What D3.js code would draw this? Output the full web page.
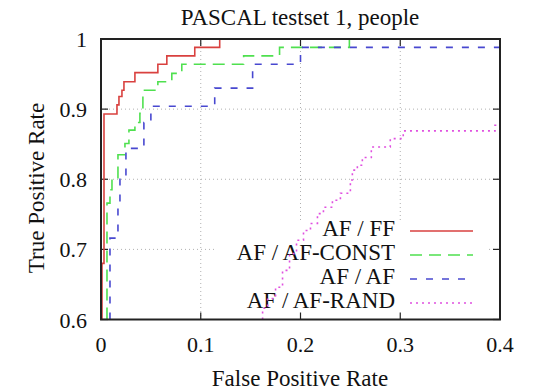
<!DOCTYPE html>
<html><head><meta charset="utf-8">
<script src="https://cdn.jsdelivr.net/npm/d3@7"></script>
<style>body{margin:0;background:#fff}svg text{font-family:"Liberation Serif","Times New Roman",serif;fill:#111}</style>
</head><body><svg id="c" width="533" height="391"></svg>
<script>
const title = "PASCAL testset 1, people";
const xLabel = "False Positive Rate";
const yLabel = "True Positive Rate";
const xTicks = [0, 0.1, 0.2, 0.3, 0.4];
const yTicks = [0.6, 0.7, 0.8, 0.9, 1];
const xTickLabels = ["0", "0.1", "0.2", "0.3", "0.4"];
const yTickLabels = ["0.6", "0.7", "0.8", "0.9", "1"];
const seriesNames = ["AF / FF", "AF / AF-CONST", "AF / AF", "AF / AF-RAND"];

// ROC staircase corners (step-before: rise at previous x, then run to this x)
const ffFpr = [0.001, 0.003, 0.016, 0.018, 0.021, 0.023, 0.034, 0.057, 0.066, 0.094, 0.119, 0.4];
const ffTpr = [0.6, 0.68, 0.893, 0.906, 0.918, 0.927, 0.939, 0.952, 0.964, 0.976, 0.988, 1.0];
const constFpr = [0.006, 0.009, 0.011, 0.017, 0.024, 0.028, 0.034, 0.039, 0.042, 0.057, 0.071, 0.081, 0.143, 0.179, 0.249, 0.4];
const constTpr = [0.6, 0.766, 0.785, 0.80, 0.835, 0.851, 0.870, 0.881, 0.894, 0.927, 0.939, 0.951, 0.964, 0.976, 0.988, 1.0];
const afFpr = [0.009, 0.017, 0.019, 0.025, 0.043, 0.050, 0.114, 0.152, 0.2, 0.4];
const afTpr = [0.6, 0.716, 0.76, 0.80, 0.844, 0.881, 0.904, 0.93, 0.964, 0.988];
const randFpr = [0.162, 0.167, 0.175, 0.182, 0.189, 0.196, 0.203, 0.210, 0.217, 0.223, 0.232, 0.240, 0.250, 0.252, 0.257, 0.262, 0.271, 0.290, 0.303, 0.395, 0.4];
const randTpr = [0.6, 0.616, 0.630, 0.646, 0.670, 0.694, 0.713, 0.727, 0.737, 0.751, 0.760, 0.770, 0.780, 0.799, 0.813, 0.820, 0.831, 0.846, 0.858, 0.869, 0.877];

const colors = ["#d9413f", "#4fe04f", "#4848d0", "#e050e0"];
const dashes = [null, "12,7", "7,9", "2,4"];

const svg = d3.select("#c");
const L = 101, R = 500, T = 39, B = 319.5;
const x = d3.scaleLinear().domain([0, 0.4]).range([L, R]);
const y = d3.scaleLinear().domain([0.6, 1]).range([B, T]);

// grid
const g = svg.append("g");
g.selectAll(".gx").data(xTicks.slice(1, -1)).enter().append("line")
  .attr("x1", d => x(d)).attr("x2", d => x(d)).attr("y1", T).attr("y2", B)
  .attr("stroke", "#b0b0b0").attr("stroke-width", 1).attr("stroke-dasharray", "1,3");
g.selectAll(".gy").data(yTicks.slice(1, -1)).enter().append("line")
  .attr("x1", L).attr("x2", R).attr("y1", d => y(d)).attr("y2", d => y(d))
  .attr("stroke", "#b0b0b0").attr("stroke-width", 1).attr("stroke-dasharray", "1,3");
// key area clears grid
svg.append("rect").attr("x", 217).attr("y", 220).attr("width", 270).attr("height", B - 221).attr("fill", "#fff");

// ticks (mirrored, inward)
const tk = svg.append("g").attr("stroke", "#222").attr("stroke-width", 1.2);
xTicks.forEach(d => {
  tk.append("line").attr("x1", x(d)).attr("x2", x(d)).attr("y1", B).attr("y2", B - 7);
  tk.append("line").attr("x1", x(d)).attr("x2", x(d)).attr("y1", T).attr("y2", T + 7);
});
yTicks.forEach(d => {
  tk.append("line").attr("x1", L).attr("x2", L + 7).attr("y1", y(d)).attr("y2", y(d));
  tk.append("line").attr("x1", R).attr("x2", R - 7).attr("y1", y(d)).attr("y2", y(d));
});

// tick labels
svg.selectAll(".xt").data(xTicks).enter().append("text")
  .attr("x", d => x(d)).attr("y", 352).attr("text-anchor", "middle")
  .attr("font-size", 22).text((d, i) => xTickLabels[i]);
svg.selectAll(".yt").data(yTicks).enter().append("text")
  .attr("x", 87).attr("y", d => y(d) + 8).attr("text-anchor", "end")
  .attr("font-size", 22).text((d, i) => yTickLabels[i]);

// labels
svg.append("text").attr("x", 300).attr("y", 25).attr("text-anchor", "middle").attr("font-size", 23).text(title);
svg.append("text").attr("x", 300).attr("y", 386).attr("text-anchor", "middle").attr("font-size", 23).text(xLabel);
svg.append("text").attr("transform", "translate(44,188) rotate(-90)").attr("text-anchor", "middle").attr("font-size", 23).text(yLabel);

// legend
const legY = [236, 260, 284, 308];
seriesNames.forEach((n, i) => {
  svg.append("text").attr("x", 395).attr("y", legY[i]).attr("text-anchor", "end").attr("font-size", 23).text(n);
  svg.append("line").attr("x1", 410).attr("x2", 473).attr("y1", legY[i] - 5).attr("y2", legY[i] - 5)
    .attr("stroke", colors[i]).attr("stroke-width", 1.6).attr("stroke-dasharray", dashes[i]);
});

// curves
svg.append("clipPath").attr("id", "clip").append("rect").attr("x", L).attr("y", T).attr("width", R - L).attr("height", B - T);
const series = [[ffFpr, ffTpr], [constFpr, constTpr], [afFpr, afTpr], [randFpr, randTpr]];
const line = d3.line().x(d => x(d[0])).y(d => y(d[1])).curve(d3.curveStepBefore);
const cg = svg.append("g").attr("clip-path", "url(#clip)");
series.forEach((s, i) => {
  const pts = s[0].map((v, j) => [v, s[1][j]]);
  cg.append("path").attr("d", line(pts)).attr("fill", "none")
    .attr("stroke", colors[i]).attr("stroke-width", 1.6).attr("stroke-dasharray", dashes[i]);
});

// frame
svg.append("rect").attr("x", L).attr("y", T).attr("width", R - L).attr("height", B - T)
  .attr("fill", "none").attr("stroke", "#222").attr("stroke-width", 2);
</script></body></html>
